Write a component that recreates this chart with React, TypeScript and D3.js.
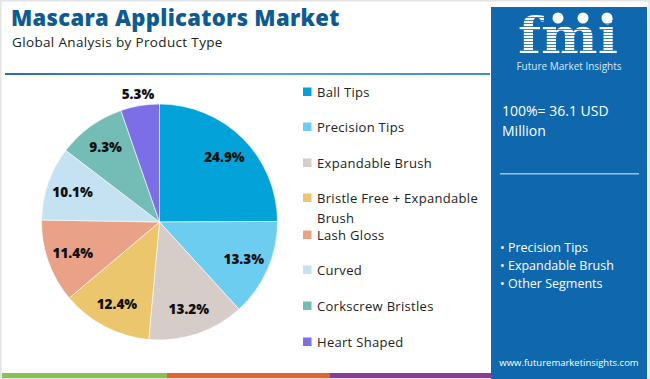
import React from "react";
import * as d3 from "d3";

const categories = [
  "Ball Tips",
  "Precision Tips",
  "Expandable Brush",
  "Bristle Free + Expandable Brush",
  "Lash Gloss",
  "Curved",
  "Corkscrew Bristles",
  "Heart Shaped",
];
const values = [24.9, 13.3, 13.2, 12.4, 11.4, 10.1, 9.3, 5.3];
const colors = ["#03a3d9", "#6dcdf0", "#d6ccc8", "#ecc66c", "#e9a287", "#c4e2f2", "#74bdb7", "#7b6ee6"];
const legendLines = [
  ["Ball Tips"],
  ["Precision Tips"],
  ["Expandable Brush"],
  ["Bristle Free + Expandable", "Brush"],
  ["Lash Gloss"],
  ["Curved"],
  ["Corkscrew Bristles"],
  ["Heart Shaped"],
];
const legendY = [92, 127, 163, 198, 235, 270, 306, 342];
const bullets = ["Precision Tips", "Expandable Brush", "Other Segments"];
const title = "Mascara Applicators Market";
const subtitle = "Global Analysis by Product Type";
const totalText = ["100%= 36.1 USD", "Million"];

const FONT = "'Open Sans', 'Noto Sans', sans-serif";
const W = 650;
const H = 379;

export default function App() {
  const cx = 159.5;
  const cy = 222;
  const r = 118;
  const data = categories.map((c, i) => ({ c, v: values[i], color: colors[i] }));
  const pie = d3.pie<any>().value((d) => d.v).sort(null);
  const arcs = pie(data);
  const arc = d3.arc<any>().innerRadius(0).outerRadius(r);
  const inner = d3.arc<any>().innerRadius(r * 0.78).outerRadius(r * 0.78);
  const outer = d3.arc<any>().innerRadius(r * 1.1).outerRadius(r * 1.1);

  const panelX = 491;
  const stripes = d3.range(15, 56, 3);

  return (
    <svg width={W} height={H} style={{ position: "absolute", left: 0, top: 0 }}>
      <defs>
        <linearGradient id="hl" x1="0" x2="1" y1="0" y2="0">
          <stop offset="0" stopColor="#2c6e9e" />
          <stop offset="0.5" stopColor="#5aa6d8" />
          <stop offset="1" stopColor="#3f8cc9" />
        </linearGradient>
        <clipPath id="logoclip">
          <text
            x={518}
            y={53}
            fontFamily="'DejaVu Serif', serif"
            fontWeight={700}
            fontSize={50}
            textLength={100}
            lengthAdjust="spacingAndGlyphs"
          >
            fmi
          </text>
        </clipPath>
      </defs>
      <rect x={0} y={0} width={W} height={H} fill="#ffffff" />
      <rect x={0.5} y={0.5} width={W - 1} height={H - 1} fill="none" stroke="#e3e3e3" strokeWidth={2} />

      <text x={11} y={26} fontFamily={FONT} fontWeight={800} fontSize={22} letterSpacing={0.3} fill="#0e5a93">
        {title}
      </text>
      <text x={12} y={47} fontFamily={FONT} fontSize={13.5} letterSpacing={0.35} fill="#222">
        {subtitle}
      </text>
      <rect x={5} y={73} width={485} height={2} fill="url(#hl)" />

      {arcs.map((a, i) => (
        <path key={i} d={arc(a) as string} transform={`translate(${cx},${cy})`} fill={a.data.color} stroke="#fff" strokeWidth={0.6} />
      ))}
      {arcs.map((a, i) => {
        const p = a.data.v < 6 ? outer.centroid(a) : inner.centroid(a);
        return (
          <text
            key={"l" + i}
            x={cx + p[0]}
            y={cy + p[1]}
            textAnchor="middle"
            dominantBaseline="central"
            fontFamily={FONT}
            fontWeight={800}
            fontSize={13.5}
            fill="#111"
          >
            {a.data.v.toFixed(1)}%
          </text>
        );
      })}

      {legendLines.map((lines, i) => (
        <g key={"lg" + i}>
          <rect x={303} y={legendY[i] - 4.5} width={8.5} height={8.5} fill={colors[i]} />
          {lines.map((t, j) => (
            <text
              key={j}
              x={317}
              y={legendY[i] + j * 20}
              dominantBaseline="central"
              fontFamily={FONT}
              fontSize={13}
              letterSpacing={0.3}
              fill="#222"
            >
              {t}
            </text>
          ))}
        </g>
      ))}

      <rect x={2} y={373} width={165} height={5} fill="#8cc152" />
      <rect x={167} y={373} width={163} height={5} fill="#e4622e" />
      <rect x={330} y={373} width={163} height={5} fill="#8e3a98" />

      <rect x={panelX} y={7} width={156} height={372} fill="#0f67ad" />
      <g clipPath="url(#logoclip)">
        {stripes.map((s, i) => (
          <rect key={"s" + i} x={512} y={s} width={112} height={2.2} fill="#ffffff" />
        ))}
      </g>
      <circle cx={558} cy={18} r={5.5} fill="#fff" />
      <circle cx={583} cy={18} r={5.5} fill="#fff" />
      <circle cx={607} cy={18} r={5.5} fill="#fff" />
      <text x={569} y={70} textAnchor="middle" fontFamily={FONT} fontSize={10} fill="#dbe9f5">
        Future Market Insights
      </text>

      {totalText.map((t, i) => (
        <text key={"t" + i} x={502} y={116 + i * 20} fontFamily={FONT} fontSize={14} fill="#fff">
          {t}
        </text>
      ))}
      <rect x={500} y={173} width={139} height={1.5} fill="#9cc3e6" />
      {bullets.map((b, i) => (
        <text key={"b" + i} x={500} y={252 + i * 18} fontFamily={FONT} fontSize={12.5} fill="#fff">
          {"\u2022 " + b}
        </text>
      ))}
      <text x={569} y={366} textAnchor="middle" fontFamily={FONT} fontSize={9.5} fill="#fff">
        www.futuremarketinsights.com
      </text>
    </svg>
  );
}
